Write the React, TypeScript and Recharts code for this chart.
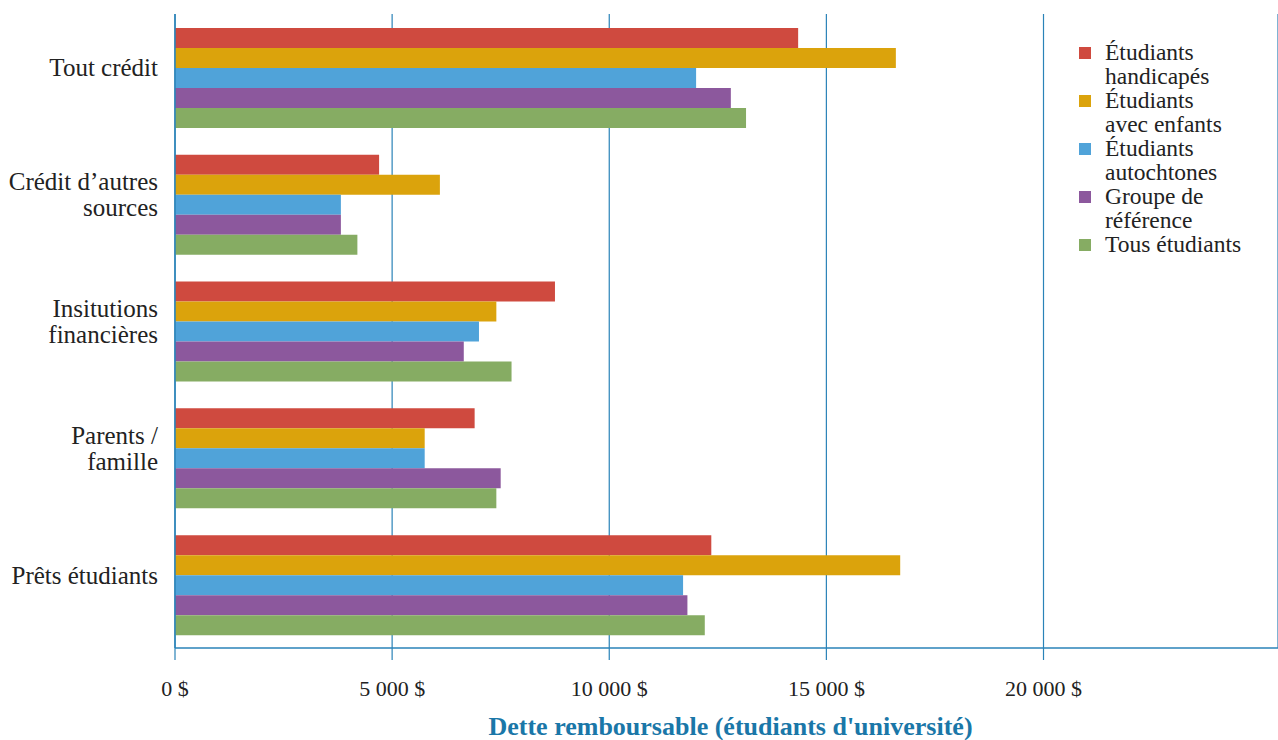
import React from 'react';
import { BarChart, Bar, XAxis, YAxis, CartesianGrid, Legend } from 'recharts';

// Sources of repayable debt (university students), by student group
const categories = [
  'Tout crédit',
  'Crédit d’autres sources',
  'Insitutions financières',
  'Parents / famille',
  'Prêts étudiants',
];
const categoryLines = [
  ['Tout crédit'],
  ['Crédit d’autres', 'sources'],
  ['Insitutions', 'financières'],
  ['Parents /', 'famille'],
  ['Prêts étudiants'],
];

const etudiantsHandicapes = [14350, 4700, 8750, 6900, 12350];
const etudiantsAvecEnfants = [16600, 6100, 7400, 5750, 16700];
const etudiantsAutochtones = [12000, 3820, 7000, 5750, 11700];
const groupeDeReference = [12800, 3820, 6650, 7500, 11800];
const tousEtudiants = [13150, 4200, 7750, 7400, 12200];

const seriesKeys = ['handicapes', 'enfants', 'autochtones', 'reference', 'tous'];
const seriesNames = [
  'Étudiants handicapés',
  'Étudiants avec enfants',
  'Étudiants autochtones',
  'Groupe de référence',
  'Tous étudiants',
];
const seriesLines = [
  ['Étudiants', 'handicapés'],
  ['Étudiants', 'avec enfants'],
  ['Étudiants', 'autochtones'],
  ['Groupe de', 'référence'],
  ['Tous étudiants'],
];
const seriesColors = ['#cf4a3f', '#dba30c', '#50a3d9', '#8c589d', '#86ac63'];
const seriesValues = [
  etudiantsHandicapes,
  etudiantsAvecEnfants,
  etudiantsAutochtones,
  groupeDeReference,
  tousEtudiants,
];

const xTicks = [0, 5000, 10000, 15000, 20000];
const xTickLabels = ['0 $', '5 000 $', '10 000 $', '15 000 $', '20 000 $'];
const xMax = 25400;
const axisTitle = "Dette remboursable (étudiants d'université)";

const rows = categories.map((category, i) => {
  const row: Record<string, string | number> = { category };
  seriesKeys.forEach((key, s) => {
    row[key] = seriesValues[s][i];
  });
  return row;
});

const FONT = "'Liberation Serif', serif";
const TEXT = '#222222';
const LINE = '#2a83b8';

const CategoryTick = (props: any) => {
  const { x, y, payload } = props;
  const idx = categories.indexOf(payload.value);
  const lines = idx >= 0 ? categoryLines[idx] : [String(payload.value)];
  const n = lines.length;
  return (
    <text x={x} y={y} textAnchor="end" fontFamily={FONT} fontSize={25} fill={TEXT}>
      {lines.map((line, i) => (
        <tspan key={i} x={x} y={y + (i - (n - 1) / 2) * 26 - 1}>
          {line}
        </tspan>
      ))}
    </text>
  );
};

const LegendContent = (props: any) => {
  const payload = [...(props.payload || [])].sort(
    (a: any, b: any) => seriesNames.indexOf(a.value) - seriesNames.indexOf(b.value)
  );
  return (
    <div style={{ fontFamily: FONT, fontSize: 23.5, lineHeight: '24px', color: TEXT }}>
      {payload.map((entry: any, i: number) => {
        const idx = seriesNames.indexOf(entry.value);
        const lines = idx >= 0 ? seriesLines[idx] : [entry.value];
        return (
          <div key={i} style={{ display: 'flex', alignItems: 'flex-start' }}>
            <span
              style={{
                display: 'inline-block',
                width: 12,
                height: 12,
                background: entry.color,
                marginTop: 7,
                marginRight: 14,
                flex: 'none',
              }}
            />
            <div>
              {lines.map((line: string, j: number) => (
                <div key={j} style={{ whiteSpace: 'nowrap' }}>{line}</div>
              ))}
            </div>
          </div>
        );
      })}
    </div>
  );
};

export default function App() {
  return (
    <div style={{ position: 'absolute', left: 0, top: 0, background: '#fff' }}>
      <BarChart
        width={1278}
        height={740}
        data={rows}
        layout="vertical"
        margin={{ top: 14, right: 0, bottom: 0, left: 0 }}
        barCategoryGap="11%"
        barGap={0}
      >
        <CartesianGrid horizontal={false} stroke={LINE} strokeWidth={1.2} />
        <XAxis
          type="number"
          domain={[0, xMax]}
          ticks={xTicks}
          interval={0}
          tickFormatter={(v: number) => xTickLabels[xTicks.indexOf(v)] ?? String(v)}
          height={92}
          tickSize={12}
          tickMargin={20}
          axisLine={{ stroke: LINE, strokeWidth: 1.5 }}
          tickLine={{ stroke: LINE, strokeWidth: 1.2 }}
          tick={{ fontFamily: FONT, fontSize: 22, fill: TEXT }}
          label={{
            value: axisTitle,
            position: 'insideBottom',
            offset: 5,
            dx: 4,
            style: { fontFamily: FONT, fontSize: 26, fontWeight: 700, fill: '#1a77a8' },
          }}
        />
        <XAxis
          xAxisId="top"
          orientation="top"
          type="number"
          domain={[0, xMax]}
          height={0}
          tick={false}
          tickLine={false}
          axisLine={{ stroke: LINE, strokeWidth: 1.5 }}
        />
        <YAxis
          type="category"
          dataKey="category"
          width={175}
          tickLine={false}
          tickSize={6}
          tickMargin={11}
          axisLine={{ stroke: LINE, strokeWidth: 1.5 }}
          tick={<CategoryTick />}
          interval={0}
        />
        <Legend
          layout="vertical"
          align="center"
          verticalAlign="middle"
          content={<LegendContent />}
          wrapperStyle={{ left: 1079, top: 40, width: 195 }}
        />
        {seriesKeys.map((key, s) => (
          <Bar
            key={key}
            dataKey={key}
            name={seriesNames[s]}
            fill={seriesColors[s]}
            isAnimationActive={false}
          />
        ))}
      </BarChart>
    </div>
  );
}
